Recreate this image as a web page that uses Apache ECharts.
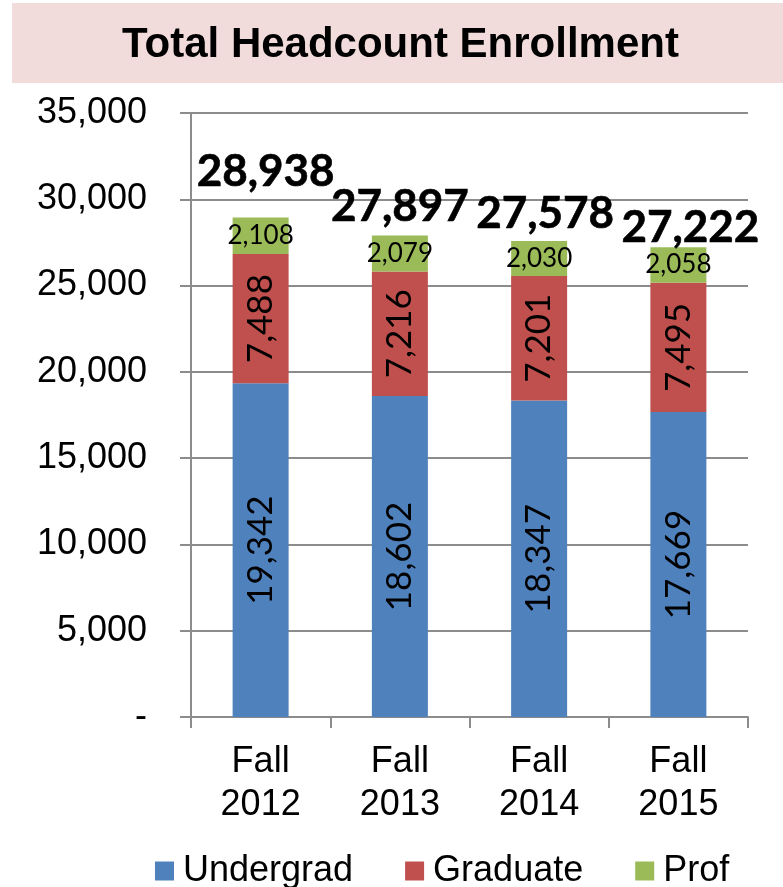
<!DOCTYPE html>
<html>
<head>
<meta charset="utf-8">
<title>Total Headcount Enrollment</title>
<script src="https://cdn.jsdelivr.net/npm/echarts@6/dist/echarts.min.js"></script>
<style>
  html, body { margin: 0; padding: 0; background: #fff; }
  #chart { width: 783px; height: 887px; }
</style>
</head>
<body>
<div id="chart"></div>
<script>
// chart data
const categories = ['Fall\n2012', 'Fall\n2013', 'Fall\n2014', 'Fall\n2015']
const undergrad = [19342, 18602, 18347, 17669]
const graduate = [7488, 7216, 7201, 7495]
const prof = [2108, 2079, 2030, 2058]
const yTicks = [0, 5000, 10000, 15000, 20000, 25000, 30000, 35000]

// totals shown above each bar
const totals = undergrad.map((v, i) => v + graduate[i] + prof[i])
// label nudges so the totals sit like the original
const totalOffsets = [[5, -46], [0, -29], [6, -27], [12, -19]]

const fmt = (v) => Number(v).toLocaleString('en-US')
const gridGray = '#8c8c8c'
const segFont = 'Lato, "Open Sans", sans-serif'

const chart = echarts.init(document.getElementById('chart'))

chart.setOption({
  backgroundColor: '#fff',
  animation: false,
  graphic: [
    {
      type: 'rect',
      left: 12,
      top: 3,
      shape: { width: 771, height: 80 },
      style: { fill: '#f2dcdb' },
      z: 0
    }
  ],
  title: {
    text: 'Total Headcount Enrollment',
    left: 117,
    top: 19,
    textStyle: {
      fontFamily: '"Liberation Sans", Arial, sans-serif',
      fontWeight: 'bold',
      fontSize: 42,
      color: '#000'
    }
  },
  legend: {
    top: 849,
    left: 155,
    padding: 0,
    itemWidth: 19,
    itemHeight: 19,
    itemGap: 52,
    icon: 'rect',
    data: ['Undergrad', 'Graduate', 'Prof'],
    textStyle: {
      fontFamily: '"Liberation Sans", Arial, sans-serif',
      fontSize: 36,
      color: '#000',
      lineHeight: 44,
      padding: [0, 0, 0, 4]
    }
  },
  grid: {
    left: 191,
    right: 35,
    top: 113,
    bottom: 170,
    containLabel: false
  },
  xAxis: {
    type: 'category',
    data: categories,
    axisLine: { lineStyle: { color: gridGray, width: 2 } },
    axisTick: { show: true, length: 11, lineStyle: { color: gridGray, width: 2 } },
    axisLabel: {
      margin: 24,
      fontFamily: '"Liberation Sans", Arial, sans-serif',
      fontSize: 36,
      lineHeight: 43,
      color: '#000'
    }
  },
  yAxis: {
    type: 'value',
    min: yTicks[0],
    max: yTicks[yTicks.length - 1],
    interval: 5000,
    axisLine: { show: true, lineStyle: { color: gridGray, width: 2 } },
    axisTick: { show: true, length: 11, lineStyle: { color: gridGray, width: 2 } },
    splitLine: { lineStyle: { color: gridGray, width: 2 } },
    axisLabel: {
      margin: 44,
      fontFamily: '"Liberation Sans", Arial, sans-serif',
      fontSize: 36,
      color: '#000',
      formatter: (v) => (v === 0 ? '-' : fmt(v))
    }
  },
  series: [
    {
      name: 'Undergrad',
      type: 'bar',
      stack: 'total',
      barWidth: 56,
      data: undergrad,
      itemStyle: { color: '#4f81bd' },
      label: {
        show: true,
        position: 'inside',
        rotate: 90,
        fontFamily: segFont,
        fontSize: 35,
        color: '#000',
        formatter: (p) => fmt(p.value)
      }
    },
    {
      name: 'Graduate',
      type: 'bar',
      stack: 'total',
      data: graduate,
      itemStyle: { color: '#c0504d' },
      label: {
        show: true,
        position: 'inside',
        rotate: 90,
        fontFamily: segFont,
        fontSize: 35,
        color: '#000',
        formatter: (p) => fmt(p.value)
      }
    },
    {
      name: 'Prof',
      type: 'bar',
      stack: 'total',
      data: prof,
      itemStyle: { color: '#9bbb59' },
      label: {
        show: true,
        position: 'inside',
        fontFamily: segFont,
        fontSize: 26,
        color: '#000',
        formatter: (p) => fmt(p.value)
      }
    },
    {
      name: 'Total',
      type: 'scatter',
      symbolSize: 0,
      silent: true,
      z: 5,
      itemStyle: { opacity: 1 },
      data: totals.map((v, i) => ({
        value: [i, v],
        label: { offset: totalOffsets[i] }
      })),
      label: {
        show: true,
        position: 'inside',
        fontFamily: segFont,
        fontWeight: 'bold',
        fontSize: 44,
        color: '#000',
        textBorderColor: '#000',
        textBorderWidth: 0.6,
        formatter: (p) => fmt(p.value[1])
      }
    }
  ]
})

window.addEventListener('resize', () => chart.resize())
</script>
</body>
</html>
